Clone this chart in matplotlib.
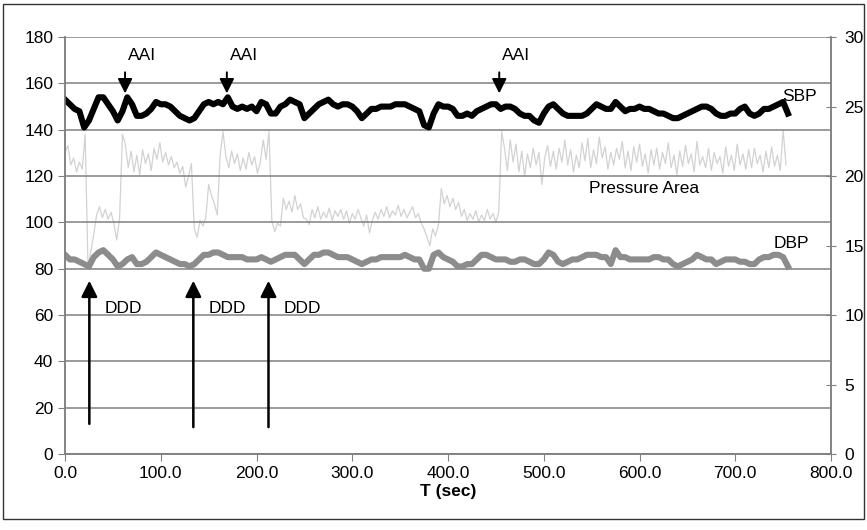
import numpy as np
import matplotlib
matplotlib.use('Agg')
import matplotlib.pyplot as plt
from matplotlib.patches import Rectangle

plt.rcParams['font.family'] = ['Liberation Sans', 'DejaVu Sans']

t_bp = np.arange(0, 756, 5)
sbp = [153, 151, 149, 148, 141, 144, 149, 154, 154, 151,
       148, 144, 148, 154, 151, 146, 146, 147, 149, 152,
       151, 151, 150, 148, 146, 145, 144, 145, 148, 151,
       152, 151, 152, 151, 154, 150, 149, 150, 149, 150,
       148, 152, 151, 147, 147, 150, 151, 153, 152, 151,
       145, 147, 149, 151, 152, 153, 151, 150, 151, 151,
       150, 148, 145, 147, 149, 149, 150, 150, 150, 151,
       151, 151, 150, 149, 148, 142, 141, 147, 151, 150,
       150, 149, 146, 146, 147, 146, 148, 149, 150, 151,
       151, 149, 150, 150, 149, 147, 146, 146, 144, 143,
       147, 150, 151, 149, 147, 146, 146, 146, 146, 147,
       149, 151, 150, 149, 149, 152, 150, 148, 149, 149,
       150, 149, 149, 148, 147, 147, 146, 145, 145, 146,
       147, 148, 149, 150, 150, 149, 147, 146, 146, 147,
       147, 149, 150, 147, 146, 147, 149, 149, 150, 151,
       152, 147]
dbp = [86, 84, 84, 83, 82, 81, 85, 87, 88, 86,
       84, 81, 82, 84, 85, 82, 82, 83, 85, 87,
       86, 85, 84, 83, 82, 82, 81, 82, 84, 86,
       86, 87, 87, 86, 85, 85, 85, 85, 84, 84,
       84, 85, 84, 83, 84, 85, 86, 86, 86, 84,
       82, 84, 86, 86, 87, 87, 86, 85, 85, 85,
       84, 83, 82, 83, 84, 84, 85, 85, 85, 85,
       85, 86, 85, 84, 84, 80, 80, 86, 87, 85,
       84, 83, 81, 81, 82, 82, 84, 86, 86, 85,
       84, 84, 84, 83, 83, 84, 84, 83, 82, 82,
       84, 87, 86, 83, 82, 83, 84, 84, 85, 86,
       86, 86, 85, 85, 82, 88, 85, 85, 84, 84,
       84, 84, 84, 85, 85, 84, 84, 82, 81, 82,
       83, 84, 86, 85, 84, 84, 82, 83, 84, 84,
       84, 83, 83, 82, 82, 84, 85, 85, 86, 86,
       85, 81]

# Pressure Area (rechte Achse), alle 3 s
t_pa = np.arange(0, 754, 3)
pressure_area = [
    21.7, 22.2, 20.8, 21.3, 20.3, 21.0, 20.5, 23.0, 13.5, 14.6, 15.8, 17.2,
    17.8, 17.0, 17.6, 16.9, 17.4, 16.6, 15.4, 17.0, 23.0, 22.3, 20.6, 21.8,
    20.3, 21.5, 20.1, 21.9, 20.9, 21.6, 20.4, 22.0, 21.2, 22.4, 21.0, 21.7,
    20.8, 21.4, 20.6, 21.0, 20.2, 20.7, 19.2, 20.0, 20.9, 16.2, 15.6, 16.8,
    16.4, 17.0, 19.4, 18.6, 18.0, 17.2, 21.5, 23.2, 21.4, 20.6, 21.8, 20.9,
    21.6, 20.4, 21.3, 20.5, 21.7, 20.8, 21.4, 20.2, 21.0, 22.6, 21.2, 23.2,
    16.8, 16.0, 16.6, 16.4, 18.4, 17.6, 18.2, 17.4, 18.6, 17.6, 18.0, 17.0,
    16.9, 16.5, 17.6, 17.0, 17.8, 16.9, 17.4, 17.0, 17.7, 16.8, 17.5, 17.1,
    17.6, 16.9, 17.5, 16.6, 17.3, 16.9, 17.6, 17.0, 16.4, 17.2, 15.9, 16.8,
    17.4, 16.9, 17.6, 17.1, 17.8, 17.0, 17.5, 17.2, 17.9, 17.1, 17.6, 17.0,
    17.4, 17.8, 17.0, 17.3, 16.6, 16.2, 15.6, 15.0, 16.2, 15.7, 16.5, 19.1,
    18.0, 18.6, 17.8, 18.4, 17.6, 18.1, 17.1, 17.6, 16.8, 17.3, 16.9, 17.5,
    16.7, 17.2, 16.8, 17.6, 16.9, 17.3, 16.7, 17.4, 23.2, 22.0, 20.4, 22.6,
    21.0, 22.3, 20.3, 21.8, 20.0, 21.6, 20.6, 22.0, 20.8, 21.7, 19.4, 21.3,
    22.2, 20.7, 21.8, 20.5, 22.0, 21.0, 22.6, 20.8, 21.9, 20.3, 21.5, 20.6,
    22.4, 21.1, 22.7, 20.6, 21.9, 20.9, 22.8, 21.3, 22.1, 20.5, 21.7, 20.8,
    22.0, 21.2, 22.5, 20.6, 21.8, 20.4, 22.1, 21.0, 22.3, 20.7, 21.6, 20.2,
    21.9, 20.8, 22.0, 20.5, 21.7, 20.9, 22.4, 20.6, 21.5, 20.1, 21.8, 20.7,
    22.2, 20.9, 21.6, 20.3, 22.5, 20.8, 21.4, 20.6, 22.0, 20.4, 21.7, 20.9,
    21.4, 20.2, 22.1, 20.7, 21.5, 20.4, 22.3, 20.8, 21.6, 20.5, 21.9, 20.6,
    22.0, 20.9, 21.5, 20.3, 21.8, 20.6, 22.1, 20.7, 21.5, 20.4, 23.3, 20.8]

# Zeitpunkte der Schrittmacher-Umschaltungen
aai_t = [62.7, 169, 453.5]
ddd_t = [25.4, 134, 212.5]
ddd_bottom = [11.8, 10.4, 10.4]

fig = plt.figure(figsize=(8.67, 5.30), dpi=100)
ax = fig.add_axes([0.075, 0.1434, 0.8835, 0.7866])
ax2 = ax.twinx()

ax2.plot(t_pa, pressure_area, color='#d2d2d2', lw=0.9)
ax2.set_ylim(0, 30)
ax2.set_yticks(range(0, 31, 5))

ax.set_zorder(ax2.get_zorder() + 1)
ax.patch.set_visible(False)

ax.plot(t_bp, dbp, color='#8c8c8c', lw=4.4)
ax.plot(t_bp, sbp, color='black', lw=4.4)

ax.set_xlim(0, 800)
ax.set_ylim(0, 180)
ax.set_yticks(range(0, 181, 20))
ax.set_xticks(range(0, 801, 100))
ax.set_xticklabels(['%.1f' % v for v in range(0, 801, 100)])
ax.yaxis.grid(True, color='#808080', lw=1.1)
ax.set_axisbelow(True)

for a in (ax, ax2):
    a.spines['top'].set_visible(False)
    for s in ('left', 'right', 'bottom'):
        a.spines[s].set_color('#808080')
        a.spines[s].set_linewidth(1.1)
ax.tick_params(axis='both', labelsize=12.5, color='#808080', length=5)
ax2.tick_params(axis='y', labelsize=12.5, color='#808080', length=7,
                direction='inout', pad=6)

ax.set_xlabel('T (sec)', fontsize=12.5, fontweight='bold', labelpad=2)

# AAI-Pfeile
for t in aai_t:
    ax.annotate('', xy=(t, 154.5), xytext=(t, 166),
                arrowprops=dict(arrowstyle='-|>', color='black', lw=1.4, mutation_scale=22))
    ax.text(t + 3, 172, 'AAI', fontsize=12.5, va='center', ha='left')

# DDD-Pfeile
for t, b in zip(ddd_t, ddd_bottom):
    ax.annotate('', xy=(t, 76), xytext=(t, b),
                arrowprops=dict(arrowstyle='-|>', color='black', lw=1.8, mutation_scale=24))
    ax.text(t + 16, 63, 'DDD', fontsize=12.5, va='center', ha='left')

ax.text(749, 154.5, 'SBP', fontsize=12.5, va='center', ha='left')
ax.text(740, 91, 'DBP', fontsize=12.5, va='center', ha='left')
ax.text(547, 114.5, 'Pressure Area', fontsize=12.5, va='center', ha='left')

# Rahmen um die Abbildung
fig.patches.append(Rectangle((3 / 867, 11 / 530), 861 / 867, 515 / 530,
                             transform=fig.transFigure, fill=False,
                             edgecolor='#333333', lw=1.0))

fig.savefig('out.png', dpi=100)
